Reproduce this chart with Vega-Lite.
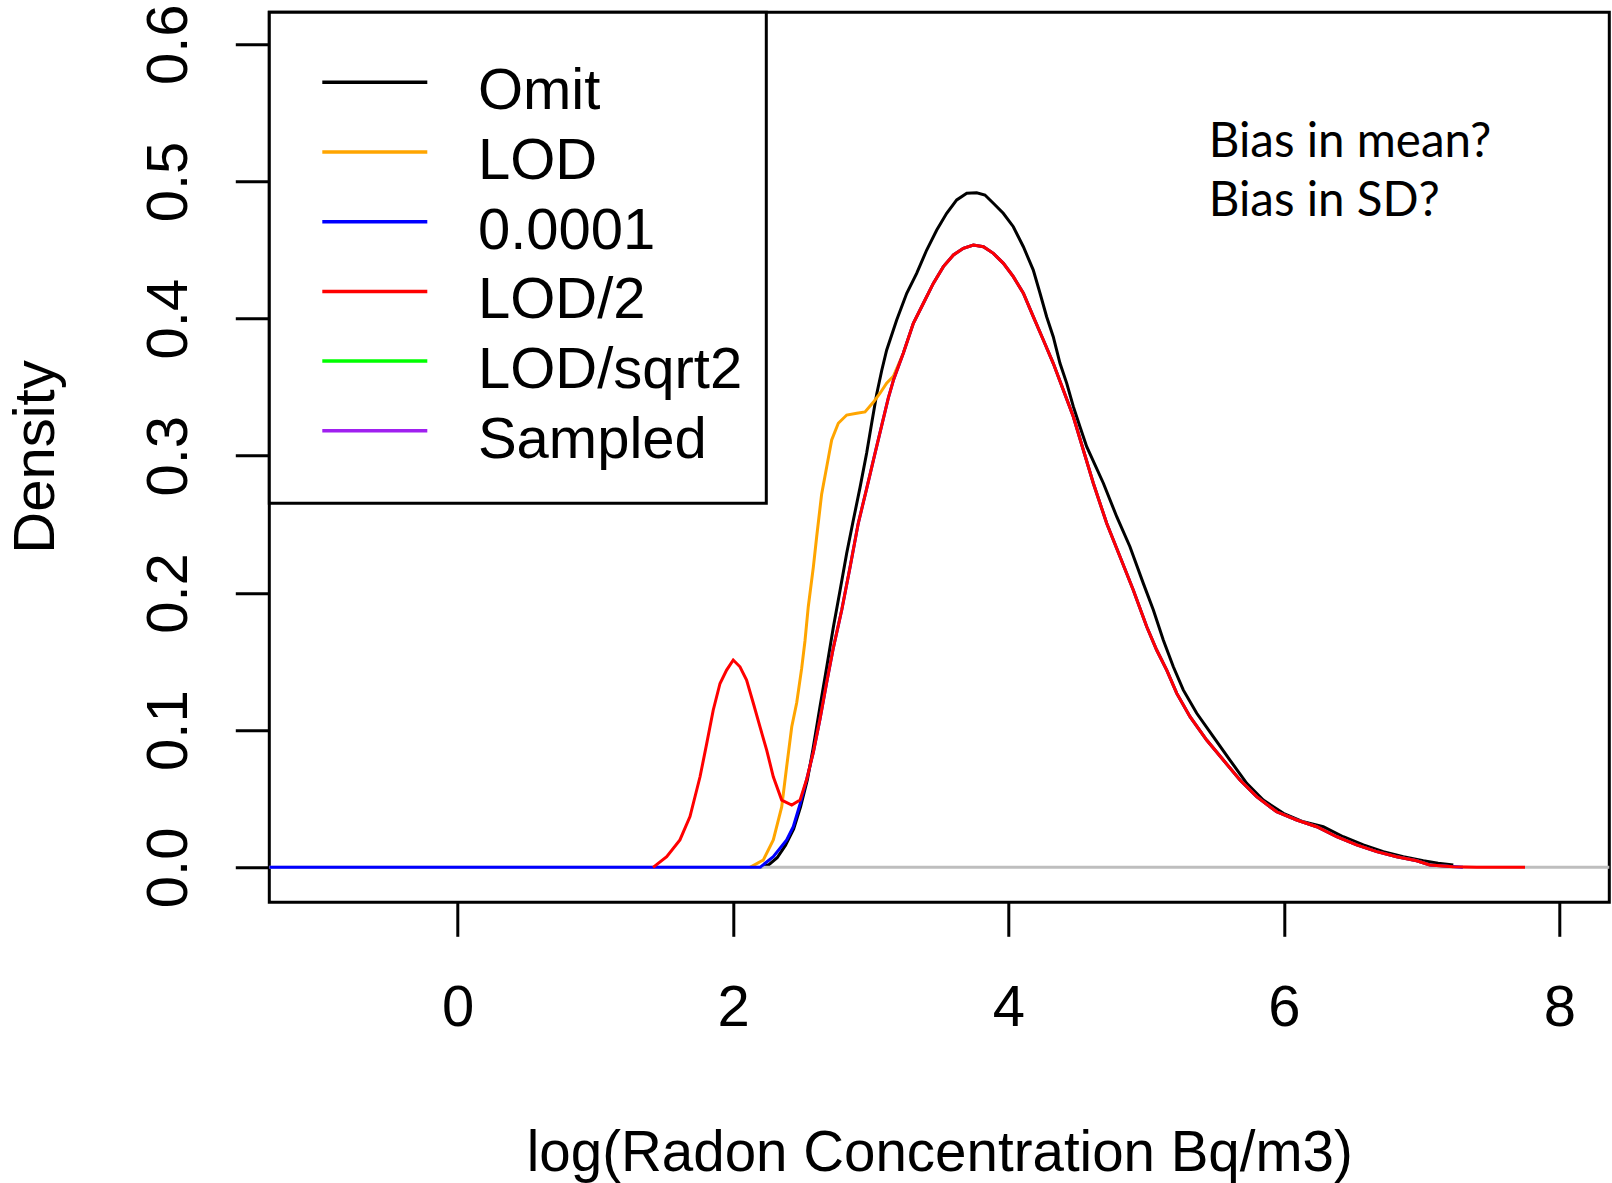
{
  "$schema": "https://vega.github.io/schema/vega-lite/v6.json",
  "width": 1340,
  "height": 890,
  "autosize": "none",
  "padding": {"left": 269.3, "top": 12.3, "right": 2.7, "bottom": 280.7},
  "background": "white",
  "config": {
    "view": {"stroke": "black", "strokeWidth": 3},
    "font": "Liberation Sans",
    "legend": {"strokeColor": "black", "fillColor": "white"}
  },
  "datasets": {
    "curves": [
      {"series": "Omit", "x": 2.2, "y": 0},
      {"series": "Omit", "x": 2.26, "y": 0.002},
      {"series": "Omit", "x": 2.32, "y": 0.007},
      {"series": "Omit", "x": 2.38, "y": 0.016},
      {"series": "Omit", "x": 2.44, "y": 0.028},
      {"series": "Omit", "x": 2.49, "y": 0.044},
      {"series": "Omit", "x": 2.54, "y": 0.064},
      {"series": "Omit", "x": 2.58, "y": 0.086},
      {"series": "Omit", "x": 2.631, "y": 0.117},
      {"series": "Omit", "x": 2.68, "y": 0.146},
      {"series": "Omit", "x": 2.728, "y": 0.175},
      {"series": "Omit", "x": 2.777, "y": 0.202},
      {"series": "Omit", "x": 2.825, "y": 0.229},
      {"series": "Omit", "x": 2.873, "y": 0.253},
      {"series": "Omit", "x": 2.922, "y": 0.277},
      {"series": "Omit", "x": 2.97, "y": 0.302},
      {"series": "Omit", "x": 3.007, "y": 0.324},
      {"series": "Omit", "x": 3.043, "y": 0.345},
      {"series": "Omit", "x": 3.079, "y": 0.362},
      {"series": "Omit", "x": 3.115, "y": 0.377},
      {"series": "Omit", "x": 3.188, "y": 0.399},
      {"series": "Omit", "x": 3.261, "y": 0.4185},
      {"series": "Omit", "x": 3.333, "y": 0.433},
      {"series": "Omit", "x": 3.406, "y": 0.45},
      {"series": "Omit", "x": 3.479, "y": 0.4646},
      {"series": "Omit", "x": 3.551, "y": 0.4768},
      {"series": "Omit", "x": 3.624, "y": 0.4865},
      {"series": "Omit", "x": 3.697, "y": 0.4914},
      {"series": "Omit", "x": 3.769, "y": 0.4918},
      {"series": "Omit", "x": 3.829, "y": 0.4901},
      {"series": "Omit", "x": 3.89, "y": 0.4841},
      {"series": "Omit", "x": 3.962, "y": 0.4768},
      {"series": "Omit", "x": 4.035, "y": 0.467},
      {"series": "Omit", "x": 4.108, "y": 0.4524},
      {"series": "Omit", "x": 4.18, "y": 0.4354},
      {"series": "Omit", "x": 4.229, "y": 0.4185},
      {"series": "Omit", "x": 4.277, "y": 0.4014},
      {"series": "Omit", "x": 4.325, "y": 0.3868},
      {"series": "Omit", "x": 4.374, "y": 0.3674},
      {"series": "Omit", "x": 4.423, "y": 0.3528},
      {"series": "Omit", "x": 4.471, "y": 0.3358},
      {"series": "Omit", "x": 4.519, "y": 0.3212},
      {"series": "Omit", "x": 4.568, "y": 0.3066},
      {"series": "Omit", "x": 4.689, "y": 0.28},
      {"series": "Omit", "x": 4.786, "y": 0.2556},
      {"series": "Omit", "x": 4.882, "y": 0.2337},
      {"series": "Omit", "x": 4.979, "y": 0.207},
      {"series": "Omit", "x": 5.052, "y": 0.1876},
      {"series": "Omit", "x": 5.124, "y": 0.1657},
      {"series": "Omit", "x": 5.197, "y": 0.1462},
      {"series": "Omit", "x": 5.269, "y": 0.1293},
      {"series": "Omit", "x": 5.367, "y": 0.1123},
      {"series": "Omit", "x": 5.487, "y": 0.0952},
      {"series": "Omit", "x": 5.608, "y": 0.0782},
      {"series": "Omit", "x": 5.73, "y": 0.0612},
      {"series": "Omit", "x": 5.85, "y": 0.049},
      {"series": "Omit", "x": 5.996, "y": 0.0394},
      {"series": "Omit", "x": 6.141, "y": 0.0332},
      {"series": "Omit", "x": 6.286, "y": 0.0296},
      {"series": "Omit", "x": 6.431, "y": 0.0223},
      {"series": "Omit", "x": 6.577, "y": 0.0163},
      {"series": "Omit", "x": 6.722, "y": 0.0114},
      {"series": "Omit", "x": 6.867, "y": 0.0077},
      {"series": "Omit", "x": 7.012, "y": 0.0048},
      {"series": "Omit", "x": 7.12, "y": 0.003},
      {"series": "Omit", "x": 7.23, "y": 0.0017},

      {"series": "LOD", "x": 2.123, "y": 0},
      {"series": "LOD", "x": 2.219, "y": 0.0053},
      {"series": "LOD", "x": 2.292, "y": 0.02},
      {"series": "LOD", "x": 2.353, "y": 0.044},
      {"series": "LOD", "x": 2.389, "y": 0.0733},
      {"series": "LOD", "x": 2.426, "y": 0.1025},
      {"series": "LOD", "x": 2.462, "y": 0.12},
      {"series": "LOD", "x": 2.498, "y": 0.145},
      {"series": "LOD", "x": 2.522, "y": 0.165},
      {"series": "LOD", "x": 2.546, "y": 0.19},
      {"series": "LOD", "x": 2.583, "y": 0.219},
      {"series": "LOD", "x": 2.607, "y": 0.241},
      {"series": "LOD", "x": 2.643, "y": 0.272},
      {"series": "LOD", "x": 2.68, "y": 0.292},
      {"series": "LOD", "x": 2.716, "y": 0.3115},
      {"series": "LOD", "x": 2.764, "y": 0.3237},
      {"series": "LOD", "x": 2.825, "y": 0.3297},
      {"series": "LOD", "x": 2.898, "y": 0.331},
      {"series": "LOD", "x": 2.958, "y": 0.332},
      {"series": "LOD", "x": 3.018, "y": 0.339},
      {"series": "LOD", "x": 3.067, "y": 0.3456},
      {"series": "LOD", "x": 3.115, "y": 0.353},
      {"series": "LOD", "x": 3.164, "y": 0.358},
      {"series": "LOD", "x": 3.236, "y": 0.3747},
      {"series": "LOD", "x": 3.309, "y": 0.3966},
      {"series": "LOD", "x": 3.382, "y": 0.4112},
      {"series": "LOD", "x": 3.454, "y": 0.4257},
      {"series": "LOD", "x": 3.527, "y": 0.4379},
      {"series": "LOD", "x": 3.6, "y": 0.4464},
      {"series": "LOD", "x": 3.672, "y": 0.4513},
      {"series": "LOD", "x": 3.745, "y": 0.4537},
      {"series": "LOD", "x": 3.818, "y": 0.4524},
      {"series": "LOD", "x": 3.89, "y": 0.4476},
      {"series": "LOD", "x": 3.963, "y": 0.4403},
      {"series": "LOD", "x": 4.035, "y": 0.4306},
      {"series": "LOD", "x": 4.108, "y": 0.4185},
      {"series": "LOD", "x": 4.18, "y": 0.4014},
      {"series": "LOD", "x": 4.253, "y": 0.3844},
      {"series": "LOD", "x": 4.325, "y": 0.3674},
      {"series": "LOD", "x": 4.398, "y": 0.348},
      {"series": "LOD", "x": 4.471, "y": 0.3285},
      {"series": "LOD", "x": 4.55, "y": 0.302},
      {"series": "LOD", "x": 4.616, "y": 0.28},
      {"series": "LOD", "x": 4.713, "y": 0.2508},
      {"series": "LOD", "x": 4.81, "y": 0.2264},
      {"series": "LOD", "x": 4.906, "y": 0.2022},
      {"series": "LOD", "x": 5.004, "y": 0.1754},
      {"series": "LOD", "x": 5.076, "y": 0.1584},
      {"series": "LOD", "x": 5.149, "y": 0.1438},
      {"series": "LOD", "x": 5.222, "y": 0.1268},
      {"series": "LOD", "x": 5.318, "y": 0.1098},
      {"series": "LOD", "x": 5.439, "y": 0.0928},
      {"series": "LOD", "x": 5.56, "y": 0.0782},
      {"series": "LOD", "x": 5.681, "y": 0.0636},
      {"series": "LOD", "x": 5.802, "y": 0.0515},
      {"series": "LOD", "x": 5.947, "y": 0.0405},
      {"series": "LOD", "x": 6.093, "y": 0.0345},
      {"series": "LOD", "x": 6.238, "y": 0.0296},
      {"series": "LOD", "x": 6.383, "y": 0.0223},
      {"series": "LOD", "x": 6.528, "y": 0.0163},
      {"series": "LOD", "x": 6.674, "y": 0.0114},
      {"series": "LOD", "x": 6.819, "y": 0.0077},
      {"series": "LOD", "x": 6.964, "y": 0.0048},
      {"series": "LOD", "x": 7.06, "y": 0.0017},
      {"series": "LOD", "x": 7.23, "y": 0.0004},

      {"series": "0.0001", "x": -1.368, "y": 0},
      {"series": "0.0001", "x": 2.196, "y": 0},
      {"series": "0.0001", "x": 2.292, "y": 0.0077},
      {"series": "0.0001", "x": 2.389, "y": 0.02},
      {"series": "0.0001", "x": 2.437, "y": 0.0296},
      {"series": "0.0001", "x": 2.486, "y": 0.046},
      {"series": "0.0001", "x": 2.534, "y": 0.064},
      {"series": "0.0001", "x": 2.583, "y": 0.084},
      {"series": "0.0001", "x": 2.631, "y": 0.108},
      {"series": "0.0001", "x": 2.68, "y": 0.135},
      {"series": "0.0001", "x": 2.728, "y": 0.16},
      {"series": "0.0001", "x": 2.789, "y": 0.1876},
      {"series": "0.0001", "x": 2.85, "y": 0.2191},
      {"series": "0.0001", "x": 2.909, "y": 0.2508},
      {"series": "0.0001", "x": 2.97, "y": 0.276},
      {"series": "0.0001", "x": 3.031, "y": 0.302},
      {"series": "0.0001", "x": 3.079, "y": 0.322},
      {"series": "0.0001", "x": 3.127, "y": 0.342},
      {"series": "0.0001", "x": 3.164, "y": 0.355},
      {"series": "0.0001", "x": 3.236, "y": 0.3747},
      {"series": "0.0001", "x": 3.309, "y": 0.3966},
      {"series": "0.0001", "x": 3.382, "y": 0.4112},
      {"series": "0.0001", "x": 3.454, "y": 0.4257},
      {"series": "0.0001", "x": 3.527, "y": 0.4379},
      {"series": "0.0001", "x": 3.6, "y": 0.4464},
      {"series": "0.0001", "x": 3.672, "y": 0.4513},
      {"series": "0.0001", "x": 3.745, "y": 0.4537},
      {"series": "0.0001", "x": 3.818, "y": 0.4524},
      {"series": "0.0001", "x": 3.89, "y": 0.4476},
      {"series": "0.0001", "x": 3.963, "y": 0.4403},
      {"series": "0.0001", "x": 4.035, "y": 0.4306},
      {"series": "0.0001", "x": 4.108, "y": 0.4185},
      {"series": "0.0001", "x": 4.18, "y": 0.4014},
      {"series": "0.0001", "x": 4.253, "y": 0.3844},
      {"series": "0.0001", "x": 4.325, "y": 0.3674},
      {"series": "0.0001", "x": 4.398, "y": 0.348},
      {"series": "0.0001", "x": 4.471, "y": 0.3285},
      {"series": "0.0001", "x": 4.55, "y": 0.302},
      {"series": "0.0001", "x": 4.616, "y": 0.28},
      {"series": "0.0001", "x": 4.713, "y": 0.2508},
      {"series": "0.0001", "x": 4.81, "y": 0.2264},
      {"series": "0.0001", "x": 4.906, "y": 0.2022},
      {"series": "0.0001", "x": 5.004, "y": 0.1754},
      {"series": "0.0001", "x": 5.076, "y": 0.1584},
      {"series": "0.0001", "x": 5.149, "y": 0.1438},
      {"series": "0.0001", "x": 5.222, "y": 0.1268},
      {"series": "0.0001", "x": 5.318, "y": 0.1098},
      {"series": "0.0001", "x": 5.439, "y": 0.0928},
      {"series": "0.0001", "x": 5.56, "y": 0.0782},
      {"series": "0.0001", "x": 5.681, "y": 0.0636},
      {"series": "0.0001", "x": 5.802, "y": 0.0515},
      {"series": "0.0001", "x": 5.947, "y": 0.0405},
      {"series": "0.0001", "x": 6.093, "y": 0.0345},
      {"series": "0.0001", "x": 6.238, "y": 0.0296},
      {"series": "0.0001", "x": 6.383, "y": 0.0223},
      {"series": "0.0001", "x": 6.528, "y": 0.0163},
      {"series": "0.0001", "x": 6.674, "y": 0.0114},
      {"series": "0.0001", "x": 6.819, "y": 0.0077},
      {"series": "0.0001", "x": 6.964, "y": 0.0048},
      {"series": "0.0001", "x": 7.06, "y": 0.0017},
      {"series": "0.0001", "x": 7.3, "y": 0},

      {"series": "LOD/2", "x": 1.419, "y": 0},
      {"series": "LOD/2", "x": 1.518, "y": 0.0077},
      {"series": "LOD/2", "x": 1.614, "y": 0.02},
      {"series": "LOD/2", "x": 1.687, "y": 0.037},
      {"series": "LOD/2", "x": 1.76, "y": 0.066},
      {"series": "LOD/2", "x": 1.808, "y": 0.09},
      {"series": "LOD/2", "x": 1.856, "y": 0.1147},
      {"series": "LOD/2", "x": 1.905, "y": 0.134},
      {"series": "LOD/2", "x": 1.953, "y": 0.1438},
      {"series": "LOD/2", "x": 2.001, "y": 0.1511},
      {"series": "LOD/2", "x": 2.05, "y": 0.1462},
      {"series": "LOD/2", "x": 2.098, "y": 0.1365},
      {"series": "LOD/2", "x": 2.147, "y": 0.1196},
      {"series": "LOD/2", "x": 2.195, "y": 0.1025},
      {"series": "LOD/2", "x": 2.244, "y": 0.0855},
      {"series": "LOD/2", "x": 2.292, "y": 0.066},
      {"series": "LOD/2", "x": 2.353, "y": 0.049},
      {"series": "LOD/2", "x": 2.426, "y": 0.0454},
      {"series": "LOD/2", "x": 2.486, "y": 0.049},
      {"series": "LOD/2", "x": 2.534, "y": 0.064},
      {"series": "LOD/2", "x": 2.583, "y": 0.084},
      {"series": "LOD/2", "x": 2.631, "y": 0.108},
      {"series": "LOD/2", "x": 2.68, "y": 0.135},
      {"series": "LOD/2", "x": 2.728, "y": 0.16},
      {"series": "LOD/2", "x": 2.789, "y": 0.1876},
      {"series": "LOD/2", "x": 2.85, "y": 0.2191},
      {"series": "LOD/2", "x": 2.909, "y": 0.2508},
      {"series": "LOD/2", "x": 2.97, "y": 0.276},
      {"series": "LOD/2", "x": 3.031, "y": 0.302},
      {"series": "LOD/2", "x": 3.079, "y": 0.322},
      {"series": "LOD/2", "x": 3.127, "y": 0.342},
      {"series": "LOD/2", "x": 3.164, "y": 0.355},
      {"series": "LOD/2", "x": 3.236, "y": 0.3747},
      {"series": "LOD/2", "x": 3.309, "y": 0.3966},
      {"series": "LOD/2", "x": 3.382, "y": 0.4112},
      {"series": "LOD/2", "x": 3.454, "y": 0.4257},
      {"series": "LOD/2", "x": 3.527, "y": 0.4379},
      {"series": "LOD/2", "x": 3.6, "y": 0.4464},
      {"series": "LOD/2", "x": 3.672, "y": 0.4513},
      {"series": "LOD/2", "x": 3.745, "y": 0.4537},
      {"series": "LOD/2", "x": 3.818, "y": 0.4524},
      {"series": "LOD/2", "x": 3.89, "y": 0.4476},
      {"series": "LOD/2", "x": 3.963, "y": 0.4403},
      {"series": "LOD/2", "x": 4.035, "y": 0.4306},
      {"series": "LOD/2", "x": 4.108, "y": 0.4185},
      {"series": "LOD/2", "x": 4.18, "y": 0.4014},
      {"series": "LOD/2", "x": 4.253, "y": 0.3844},
      {"series": "LOD/2", "x": 4.325, "y": 0.3674},
      {"series": "LOD/2", "x": 4.398, "y": 0.348},
      {"series": "LOD/2", "x": 4.471, "y": 0.3285},
      {"series": "LOD/2", "x": 4.55, "y": 0.302},
      {"series": "LOD/2", "x": 4.616, "y": 0.28},
      {"series": "LOD/2", "x": 4.713, "y": 0.2508},
      {"series": "LOD/2", "x": 4.81, "y": 0.2264},
      {"series": "LOD/2", "x": 4.906, "y": 0.2022},
      {"series": "LOD/2", "x": 5.004, "y": 0.1754},
      {"series": "LOD/2", "x": 5.076, "y": 0.1584},
      {"series": "LOD/2", "x": 5.149, "y": 0.1438},
      {"series": "LOD/2", "x": 5.222, "y": 0.1268},
      {"series": "LOD/2", "x": 5.318, "y": 0.1098},
      {"series": "LOD/2", "x": 5.439, "y": 0.0928},
      {"series": "LOD/2", "x": 5.56, "y": 0.0782},
      {"series": "LOD/2", "x": 5.681, "y": 0.0636},
      {"series": "LOD/2", "x": 5.802, "y": 0.0515},
      {"series": "LOD/2", "x": 5.947, "y": 0.0405},
      {"series": "LOD/2", "x": 6.093, "y": 0.0345},
      {"series": "LOD/2", "x": 6.238, "y": 0.0296},
      {"series": "LOD/2", "x": 6.383, "y": 0.0223},
      {"series": "LOD/2", "x": 6.528, "y": 0.0163},
      {"series": "LOD/2", "x": 6.674, "y": 0.0114},
      {"series": "LOD/2", "x": 6.819, "y": 0.0077},
      {"series": "LOD/2", "x": 6.964, "y": 0.0048},
      {"series": "LOD/2", "x": 7.06, "y": 0.0017},
      {"series": "LOD/2", "x": 7.23, "y": 0.0004},
      {"series": "LOD/2", "x": 7.4, "y": 0},
      {"series": "LOD/2", "x": 7.751, "y": 0}
    ],
    "notes": [
      {"label": "Bias in mean?", "x": 5.454, "y": 0.518},
      {"label": "Bias in SD?", "x": 5.454, "y": 0.475}
    ]
  },
  "layer": [
    {
      "data": {"name": "curves"},
      "transform": [{"filter": {"field": "series", "equal": "Omit"}}],
      "mark": {"type": "line", "strokeWidth": 3, "clip": true},
      "encoding": {
        "x": {"field": "x", "type": "quantitative", "scale": {"domain": [-1.368, 8.363], "nice": false, "zero": false},
          "axis": {"title": "log(Radon Concentration Bq/m3)", "values": [0, 2, 4, 6, 8], "format": "d", "grid": false, "domain": false,
            "tickSize": 34, "tickWidth": 3, "tickColor": "black", "labelFontSize": 58, "labelFont": "Liberation Sans",
            "labelColor": "black", "labelPadding": 43, "labelBaseline": "top", "labelFlush": false, "labelOverlap": false,
            "titleFontSize": 56.5, "titleFont": "Liberation Sans", "titleFontWeight": "normal", "titleColor": "black",
            "titleY": 267.7, "titleBaseline": "alphabetic"}},
        "y": {"field": "y", "type": "quantitative", "scale": {"domain": [-0.0255, 0.6233], "nice": false, "zero": false},
          "axis": {"title": "Density", "values": [0, 0.1, 0.2, 0.3, 0.4, 0.5, 0.6], "format": ".1f", "grid": false, "domain": false,
            "tickSize": 34, "tickWidth": 3, "tickColor": "black", "labelFontSize": 58, "labelFont": "Liberation Sans",
            "labelColor": "black", "labelAngle": -90, "labelAlign": "center", "labelBaseline": "alphabetic", "labelPadding": 48.3,
            "labelOverlap": false, "labelFlush": false,
            "titleFontSize": 58, "titleFont": "Liberation Sans", "titleFontWeight": "normal", "titleColor": "black",
            "titleAngle": 270, "titleAlign": "center", "titleBaseline": "alphabetic", "titleX": -215.8, "titleY": 444.2}},
        "color": {"field": "series", "type": "nominal",
          "scale": {"domain": ["Omit", "LOD", "0.0001", "LOD/2", "LOD/sqrt2", "Sampled"], "range": ["#000000", "#FFA500", "#0000FF", "#FF0000", "#00FF00", "#A020F0"]},
          "legend": {"title": " ", "titleFontSize": 12, "titlePadding": 15, "orient": "top-left", "offset": 0, "padding": 24,
            "strokeColor": "black", "fillColor": "white",
            "symbolType": "M-2.625,-0.5H2.625M0,1.57", "symbolSize": 1600, "symbolStrokeWidth": 3.5,
            "symbolOffset": 52.5, "labelOffset": 74.1, "rowPadding": 1.7,
            "labelFontSize": 58, "labelFont": "Liberation Sans", "labelColor": "black", "labelLimit": 600,
            "encode": {"legend": {"update": {"strokeWidth": {"value": 3}}}}}}
      }
    },
    {
      "data": {"values": [{}]},
      "mark": {"type": "rule", "color": "#BEBEBE", "strokeWidth": 3},
      "encoding": {"y": {"datum": 0}}
    },
    {
      "data": {"name": "curves"},
      "transform": [{"filter": {"field": "series", "equal": "LOD"}}],
      "mark": {"type": "line", "strokeWidth": 3, "clip": true},
      "encoding": {
        "x": {"field": "x", "type": "quantitative"},
        "y": {"field": "y", "type": "quantitative"},
        "color": {"field": "series", "type": "nominal"}
      }
    },
    {
      "data": {"name": "curves"},
      "transform": [{"filter": {"field": "series", "equal": "0.0001"}}],
      "mark": {"type": "line", "strokeWidth": 3, "clip": true},
      "encoding": {
        "x": {"field": "x", "type": "quantitative"},
        "y": {"field": "y", "type": "quantitative"},
        "color": {"field": "series", "type": "nominal"}
      }
    },
    {
      "data": {"name": "curves"},
      "transform": [{"filter": {"field": "series", "equal": "LOD/2"}}],
      "mark": {"type": "line", "strokeWidth": 3, "clip": true},
      "encoding": {
        "x": {"field": "x", "type": "quantitative"},
        "y": {"field": "y", "type": "quantitative"},
        "color": {"field": "series", "type": "nominal"}
      }
    },
    {
      "data": {"name": "notes"},
      "mark": {"type": "text", "align": "left", "baseline": "alphabetic", "font": "Lato", "fontSize": 47.5, "color": "black"},
      "encoding": {
        "x": {"field": "x", "type": "quantitative"},
        "y": {"field": "y", "type": "quantitative"},
        "text": {"field": "label"}
      }
    }
  ]
}
